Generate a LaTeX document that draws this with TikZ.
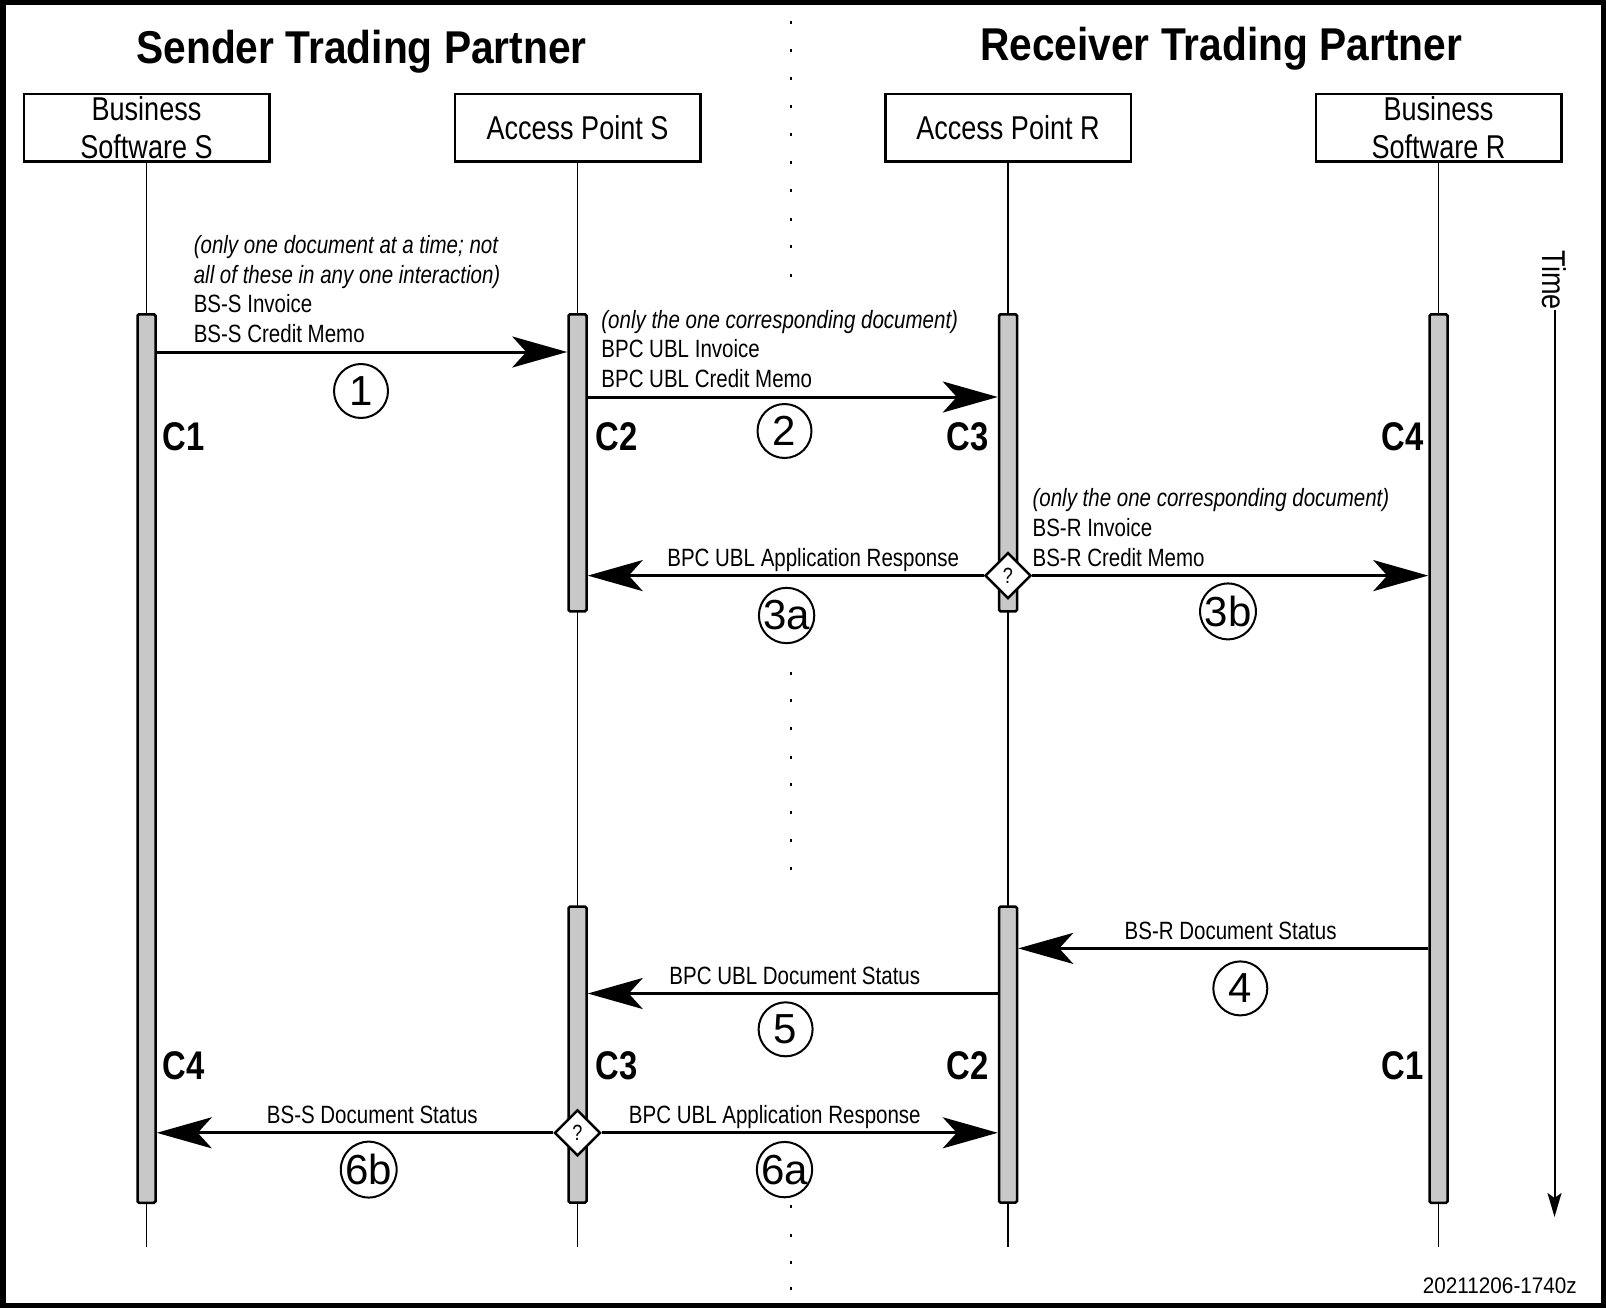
\documentclass[tikz,border=0pt]{standalone}
\usepackage{fontspec}
\setmainfont[FakeStretch=0.82]{Liberation Sans}
\newfontfamily\titlefont[FakeStretch=0.885]{Liberation Sans}
\newfontfamily\numfont{Liberation Sans}
\newfontfamily\footfont[FakeStretch=0.92]{Liberation Sans}
\usetikzlibrary{arrows.meta,shapes.geometric}
\definecolor{barfill}{RGB}{200,200,200}
\begin{document}
\begin{tikzpicture}[x=1pt,y=-1pt,
  lifebox/.style={draw,line width=2.5pt,minimum width=245.5pt,minimum height=67.5pt,inner sep=0pt,align=center,font=\fontsize{33}{38}\selectfont},
  lifeline/.style={line width=1.5pt},
  actbar/.style={draw,line width=2.5pt,fill=barfill,minimum width=18pt,inner sep=0pt,rounded corners=1.5pt},
  msg/.style={line width=3pt,-{Stealth[length=55pt,width=31pt,inset=14pt]}},
  lbl/.style={inner sep=0pt,font=\fontsize{25}{29.7}\selectfont},
  ilbl/.style={inner sep=0pt,font=\fontsize{25}{29.7}\selectfont\itshape},
  cnum/.style={circle,draw,line width=2pt,minimum size=54pt,inner sep=0pt,font=\numfont\fontsize{42}{42}\selectfont},
  clbl/.style={inner sep=0pt,font=\bfseries\fontsize{40}{40}\selectfont},
  choice/.style={diamond,draw,fill=white,line width=2.5pt,minimum width=46pt,minimum height=46pt,inner sep=0pt,font=\fontsize{22}{22}\selectfont},
  title/.style={inner sep=0pt,font=\titlefont\bfseries\fontsize{46}{46}\selectfont}
]
\useasboundingbox (0,0) rectangle (1606,1308);
\fill[white] (0,0) rectangle (1606,1308);
\draw[line width=5.5pt] (2.75,2.75) rectangle (1603.25,1305.25);

% titles
\node[title,anchor=base] (tS) at (361.5,64) {Sender Trading Partner};
\node[title,anchor=base] (tR) at (1221,61) {Receiver Trading Partner};

% separator dots
\foreach \yy in {22.5,50.2,78.9,106.5,134.2,162.8,190.5,219.2,246.8,275.5,
                 673,700.6,728.2,757,784.5,812.2,840.9,868.5,
                 1206.7,1235,1262.7,1288.3}
  \fill (789.5,\yy-1.5) rectangle ++(2.4,3);

% participant boxes
\node[lifebox] (bss) at (146.5,128) {Business\\Software S};
\node[lifebox] (aps) at (577.5,128) {Access Point S};
\node[lifebox] (apr) at (1008,128) {Access Point R};
\node[lifebox] (bsr) at (1438.5,128) {Business\\Software R};

% lifeline ends
\coordinate (e1) at (146.5,1247);
\coordinate (e2) at (577.5,1247);
\coordinate (e3) at (1008,1247);
\coordinate (e4) at (1438.5,1247);
\draw[lifeline] (bss.south) -- (e1);
\draw[lifeline] (aps.south) -- (e2);
\draw[lifeline] (apr.south) -- (e3);
\draw[lifeline] (bsr.south) -- (e4);

% activation bars
\node[actbar,minimum height=888.5pt] (b1) at (146.5,758.5) {};
\node[actbar,minimum height=297pt] (b2a) at (577.5,462.75) {};
\node[actbar,minimum height=296pt] (b2b) at (577.5,1054.7) {};
\node[actbar,minimum height=297pt] (b3a) at (1008,462.75) {};
\node[actbar,minimum height=296pt] (b3b) at (1008,1054.7) {};
\node[actbar,minimum height=888.5pt] (b4) at (1438.5,758.5) {};

% C labels
\node[clbl,anchor=base west] (c1a) at (162.5,450) {C1};
\node[clbl,anchor=base west] (c2a) at (595.5,450) {C2};
\node[clbl,anchor=base east] (c3a) at (988.5,450) {C3};
\node[clbl,anchor=base east] (c4a) at (1424,450) {C4};
\node[clbl,anchor=base west] (c4b) at (162.5,1079) {C4};
\node[clbl,anchor=base west] (c3b) at (595.5,1079) {C3};
\node[clbl,anchor=base east] (c2b) at (988.5,1079) {C2};
\node[clbl,anchor=base east] (c1b) at (1424,1079) {C1};

% message 1
\node[ilbl,anchor=base west] (m1t1) at (193.6,253.4) {(only one document at a time; not};
\node[ilbl,anchor=base west] (m1t2) at (193.6,283.1) {all of these in any one interaction)};
\node[lbl,anchor=base west] (m1t3) at (193.6,312.8) {BS-S Invoice};
\node[lbl,anchor=base west] (m1t4) at (193.6,342.5) {BS-S Credit Memo};
\draw[msg] (b1.east |- 0,352) -- (b2a.west |- 0,352);
\node[cnum] (n1) at (361,391) {1};

% message 2
\node[ilbl,anchor=base west] (m2t1) at (601.2,328.1) {(only the one corresponding document)};
\node[lbl,anchor=base west] (m2t2) at (601.2,357.8) {BPC UBL Invoice};
\node[lbl,anchor=base west] (m2t3) at (601.2,387.5) {BPC UBL Credit Memo};
\draw[msg] (b2a.east |- 0,397) -- (b3a.west |- 0,397);
\node[cnum] (n2) at (784.5,431) {2};

% message 3a / 3b
\node[choice] (d3) at (1008,575.6) {?};
\node[lbl,anchor=base] (m3at) at (813.2,566) {BPC UBL Application Response};
\draw[msg] (d3.west) -- (b2a.east |- d3.west);
\node[cnum] (n3a) at (786.6,615.5) {3a};
\node[ilbl,anchor=base west] (m3bt1) at (1032.4,506.6) {(only the one corresponding document)};
\node[lbl,anchor=base west] (m3bt2) at (1032.4,536.3) {BS-R Invoice};
\node[lbl,anchor=base west] (m3bt3) at (1032.4,566) {BS-R Credit Memo};
\draw[msg] (d3.east) -- (b4.west |- d3.east);
\node[cnum] (n3b) at (1228,611.4) {3b};

% message 4
\node[lbl,anchor=base] (m4t) at (1230.6,939) {BS-R Document Status};
\draw[msg] (b4.west |- 0,948.4) -- (b3b.east |- 0,948.4);
\node[cnum] (n4) at (1240.3,988.4) {4};

% message 5
\node[lbl,anchor=base] (m5t) at (794.8,984) {BPC UBL Document Status};
\draw[msg] (b3b.west |- 0,993.5) -- (b2b.east |- 0,993.5);
\node[cnum] (n5) at (785.6,1029.3) {5};

% message 6a / 6b
\node[choice] (d6) at (577.5,1132.8) {?};
\node[lbl,anchor=base] (m6at) at (774.8,1123.3) {BPC UBL Application Response};
\draw[msg] (d6.east) -- (b3b.west |- d6.east);
\node[cnum] (n6a) at (784.5,1169.6) {6a};
\node[lbl,anchor=base] (m6bt) at (372.3,1123.3) {BS-S Document Status};
\draw[msg] (d6.west) -- (b1.east |- d6.west);
\node[cnum] (n6b) at (368.7,1169.6) {6b};

% time axis
\node[inner sep=0pt,rotate=-90,anchor=east,font=\fontsize{33}{33}\selectfont] (time) at (1554.5,310) {Time};
\coordinate (timeend) at (1554.5,1217);
\draw[line width=2pt,-{Stealth[length=24pt,width=14pt,inset=5pt]}] (time.east) -- (timeend);

% footer
\node[inner sep=0pt,anchor=base east,font=\footfont\fontsize{22.5}{22.5}\selectfont] (foot) at (1577,1293.3) {20211206-1740z};
\end{tikzpicture}
\end{document}
